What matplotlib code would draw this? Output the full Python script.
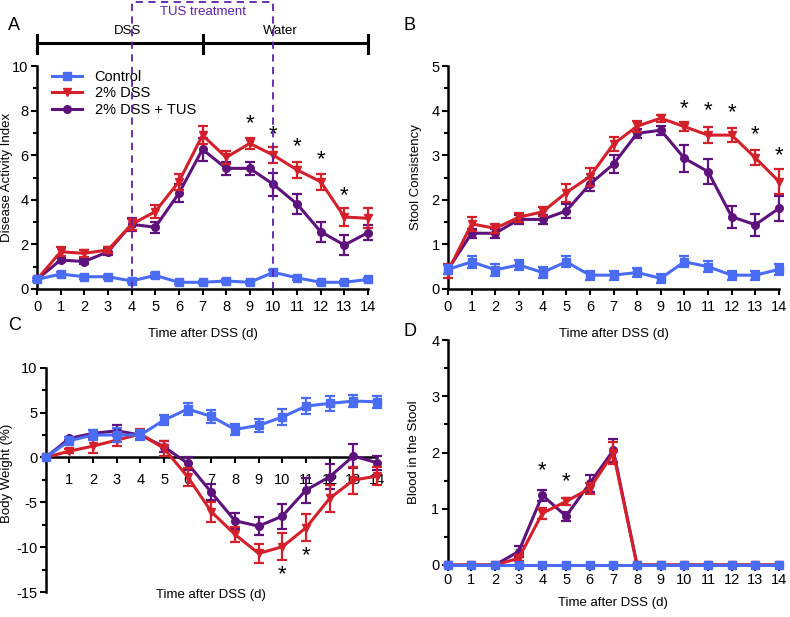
import numpy as np
import matplotlib
matplotlib.use("Agg")
import matplotlib.pyplot as plt
from matplotlib.ticker import MultipleLocator, FixedLocator
from matplotlib.lines import Line2D

plt.rcParams['font.family'] = ['Liberation Sans', 'DejaVu Sans']
plt.rcParams['axes.unicode_minus'] = False

days = list(range(15))

# A - Disease Activity Index
dai_ctrl = [0.43, 0.67, 0.55, 0.55, 0.36, 0.61, 0.30, 0.30, 0.36, 0.30, 0.75, 0.50, 0.30, 0.30, 0.43]
dai_ctrl_err = [0.08, 0.1, 0.1, 0.1, 0.08, 0.1, 0.08, 0.08, 0.08, 0.08, 0.12, 0.1, 0.08, 0.08, 0.08]
dai_dss = [0.43, 1.67, 1.60, 1.75, 2.90, 3.47, 4.81, 6.90, 5.90, 6.53, 6.00, 5.34, 4.81, 3.23, 3.17]
dai_dss_err = [0.05, 0.2, 0.15, 0.12, 0.25, 0.3, 0.35, 0.4, 0.3, 0.25, 0.35, 0.35, 0.35, 0.4, 0.45]
dai_tus = [0.43, 1.30, 1.23, 1.67, 2.90, 2.77, 4.29, 6.26, 5.41, 5.41, 4.69, 3.81, 2.57, 1.97, 2.53]
dai_tus_err = [0.05, 0.1, 0.1, 0.15, 0.3, 0.25, 0.4, 0.5, 0.3, 0.3, 0.5, 0.45, 0.45, 0.45, 0.35]
dai_star_x = [9, 10, 11, 12, 13]
dai_star_y = [7.4, 6.9, 6.4, 5.8, 4.2]

# B - Stool Consistency
sc_ctrl = [0.44, 0.61, 0.43, 0.54, 0.37, 0.61, 0.31, 0.31, 0.37, 0.24, 0.61, 0.50, 0.31, 0.31, 0.44]
sc_ctrl_err = [0.1, 0.14, 0.14, 0.12, 0.12, 0.12, 0.1, 0.1, 0.1, 0.1, 0.12, 0.12, 0.1, 0.1, 0.12]
sc_dss = [0.40, 1.46, 1.36, 1.61, 1.73, 2.16, 2.52, 3.25, 3.65, 3.83, 3.64, 3.45, 3.45, 2.94, 2.41]
sc_dss_err = [0.15, 0.15, 0.1, 0.1, 0.1, 0.2, 0.2, 0.15, 0.12, 0.08, 0.1, 0.18, 0.15, 0.17, 0.28]
sc_tus = [0.44, 1.25, 1.25, 1.56, 1.56, 1.75, 2.35, 2.80, 3.49, 3.56, 2.93, 2.63, 1.62, 1.44, 1.81]
sc_tus_err = [0.1, 0.1, 0.1, 0.1, 0.1, 0.15, 0.15, 0.2, 0.1, 0.1, 0.3, 0.28, 0.25, 0.25, 0.28]
sc_star_x = [10, 11, 12, 13, 14]
sc_star_y = [4.05, 4.0, 3.95, 3.45, 3.0]

# C - Body Weight
bw_ctrl = [0, 1.86, 2.5, 2.5, 2.5, 4.16, 5.39, 4.57, 3.12, 3.57, 4.5, 5.72, 6.02, 6.28, 6.2]
bw_ctrl_err = [0, 0.4, 0.6, 0.8, 0.6, 0.6, 0.7, 0.7, 0.6, 0.7, 0.9, 0.9, 0.8, 0.7, 0.7]
bw_dss = [0, 0.7, 1.26, 1.93, 2.6, 1.0, -2.16, -6.06, -8.59, -10.7, -9.96, -7.84, -4.57, -2.53, -2.08]
bw_dss_err = [0, 0.2, 0.8, 0.7, 0.6, 0.8, 1.0, 1.1, 0.8, 1.1, 1.5, 1.5, 1.5, 1.5, 1.0]
bw_tus = [0, 2.12, 2.68, 2.97, 2.5, 1.19, -0.67, -3.9, -7.06, -7.66, -6.54, -3.64, -2.16, 0.15, -0.59]
bw_tus_err = [0, 0.2, 0.4, 0.6, 0.5, 0.6, 0.7, 0.9, 0.9, 1.0, 1.4, 1.4, 1.4, 1.3, 0.8]
bw_star_x = [10, 11]
bw_star_y = [-13.1, -10.9]

# D - Blood in the Stool
bl_ctrl = [0] * 15
bl_dss = [0, 0, 0, 0.12, 0.92, 1.13, 1.36, 1.99, 0, 0, 0, 0, 0, 0, 0]
bl_dss_err = [0, 0, 0, 0.05, 0.1, 0.06, 0.1, 0.2, 0, 0, 0, 0, 0, 0, 0]
bl_tus = [0, 0, 0, 0.24, 1.24, 0.87, 1.45, 2.04, 0, 0, 0, 0, 0, 0, 0]
bl_tus_err = [0, 0, 0, 0.1, 0.1, 0.08, 0.15, 0.2, 0, 0, 0, 0, 0, 0, 0]
bl_star_x = [4, 5]
bl_star_y = [1.68, 1.49]

c_ctrl = "#4a6cf5"
c_dss = "#d4202a"
c_tus = "#5e127c"

fig = plt.figure(figsize=(7.9, 6.17), dpi=100)
W, H = 790.0, 617.0


def make_ax(x0, x1, ytop, ybot):
    return fig.add_axes([x0 / W, 1 - ybot / H, (x1 - x0) / W, (ybot - ytop) / H])


def draw(ax, ctrl, ctrl_err, dss, dss_err, tus, tus_err):
    kw = dict(lw=2.2, capsize=3.5, elinewidth=1.6, capthick=1.6, clip_on=False)
    ax.errorbar(days, tus, yerr=tus_err, color=c_tus, marker="o", ms=5.5, zorder=3, **kw)
    ax.errorbar(days, dss, yerr=dss_err, color=c_dss, marker="v", ms=6, zorder=4, **kw)
    ax.errorbar(days, ctrl, yerr=ctrl_err, color=c_ctrl, marker="s", ms=5.5, zorder=5, **kw)


def style(ax, ylab, lx, ly=0.5, xpad=4):
    for s in ["top", "right"]:
        ax.spines[s].set_visible(False)
    for s in ["left", "bottom"]:
        ax.spines[s].set_linewidth(1.8)
    ax.tick_params(which="major", length=4, width=1.5, labelsize=10.5, pad=2)
    ax.tick_params(axis="x", which="major", pad=xpad)
    ax.tick_params(which="minor", length=3, width=1.5)
    ax.set_xlim(0, 14)
    ax.xaxis.set_major_locator(FixedLocator(days))
    ax.set_ylabel(ylab, fontsize=9.5)
    ax.yaxis.set_label_coords(lx, ly)


def stars(ax, xs, ys):
    for x, y in zip(xs, ys):
        ax.text(x, y, "*", ha="center", va="center", fontsize=16)


# Panel A
axA = make_ax(37, 368, 66, 289)
draw(axA, dai_ctrl, dai_ctrl_err, dai_dss, dai_dss_err, dai_tus, dai_tus_err)
style(axA, "Disease Activity Index", -0.073)
axA.set_ylim(0, 10)
axA.yaxis.set_major_locator(MultipleLocator(2))
axA.yaxis.set_minor_locator(MultipleLocator(1))
axA.set_xlabel("Time after DSS (d)", fontsize=9.5, labelpad=10)
stars(axA, dai_star_x, dai_star_y)
handles = [Line2D([], [], color=c_ctrl, marker="s", ms=5.5, lw=2.2),
           Line2D([], [], color=c_dss, marker="v", ms=6, lw=2.2),
           Line2D([], [], color=c_tus, marker="o", ms=5.5, lw=2.2)]
axA.legend(handles, ["Control", "2% DSS", "2% DSS + TUS"], loc="upper left",
           bbox_to_anchor=(0.02, 1.02), frameon=False, fontsize=10.5,
           handlelength=2.0, handletextpad=0.9, labelspacing=0.15, borderaxespad=0.2)
tr = axA.get_xaxis_transform()
axA.plot([0, 14], [1.103, 1.103], color="black", lw=2.2, transform=tr, clip_on=False)
for xv in [0, 7, 14]:
    axA.plot([xv, xv], [1.06, 1.14], color="black", lw=2.2, transform=tr, clip_on=False)
axA.text(3.85, 1.158, "DSS", transform=tr, ha="center", va="center", fontsize=9.5)
axA.text(10.3, 1.158, "Water", transform=tr, ha="center", va="center", fontsize=9.5)
box_c = "#5b22a8"
axA.plot([4, 4, 10, 10], [0, 1.285, 1.285, 0], color=box_c, lw=1.3, ls=(0, (4, 3)),
         transform=tr, clip_on=False, zorder=6)
axA.text(7, 1.243, "TUS treatment", transform=tr, ha="center", va="center",
         fontsize=9.5, color=box_c)
fig.text(8 / W, 1 - 25 / H, "A", fontsize=13, ha="left", va="center")

# Panel B
axB = make_ax(448, 779, 66, 289)
draw(axB, sc_ctrl, sc_ctrl_err, sc_dss, sc_dss_err, sc_tus, sc_tus_err)
style(axB, "Stool Consistency", -0.08)
axB.set_ylim(0, 5)
axB.yaxis.set_major_locator(MultipleLocator(1))
axB.yaxis.set_minor_locator(MultipleLocator(0.5))
axB.set_xlabel("Time after DSS (d)", fontsize=9.5, labelpad=10)
stars(axB, sc_star_x, sc_star_y)
fig.text(403 / W, 1 - 25 / H, "B", fontsize=13, ha="left", va="center")

# Panel C
axC = make_ax(45.7, 377, 367.7, 592)
draw(axC, bw_ctrl, bw_ctrl_err, bw_dss, bw_dss_err, bw_tus, bw_tus_err)
style(axC, "Body Weight (%)", -0.1, 0.53, xpad=7)
axC.spines["bottom"].set_position(("data", 0))
axC.set_ylim(-15, 10)
axC.yaxis.set_major_locator(MultipleLocator(5))
axC.yaxis.set_minor_locator(MultipleLocator(2.5))
axC.set_xticklabels([""] + [str(d) for d in days[1:]])
axC.text(7, -15.3, "Time after DSS (d)", ha="center", va="center", fontsize=9.5)
stars(axC, bw_star_x, bw_star_y)
fig.text(8 / W, 1 - 325 / H, "C", fontsize=13, ha="left", va="center")

# Panel D
axD = make_ax(447.7, 779, 340, 565)
draw(axD, bl_ctrl, [0] * 15, bl_dss, bl_dss_err, bl_tus, bl_tus_err)
style(axD, "Blood in the Stool", -0.084, xpad=2)
axD.set_ylim(0, 4)
axD.yaxis.set_major_locator(MultipleLocator(1))
axD.yaxis.set_minor_locator(MultipleLocator(0.5))
axD.set_xlabel("Time after DSS (d)", fontsize=9.5, labelpad=7)
stars(axD, bl_star_x, bl_star_y)
fig.text(403 / W, 1 - 332 / H, "D", fontsize=13, ha="left", va="center")

fig.savefig("out.png", dpi=100)
